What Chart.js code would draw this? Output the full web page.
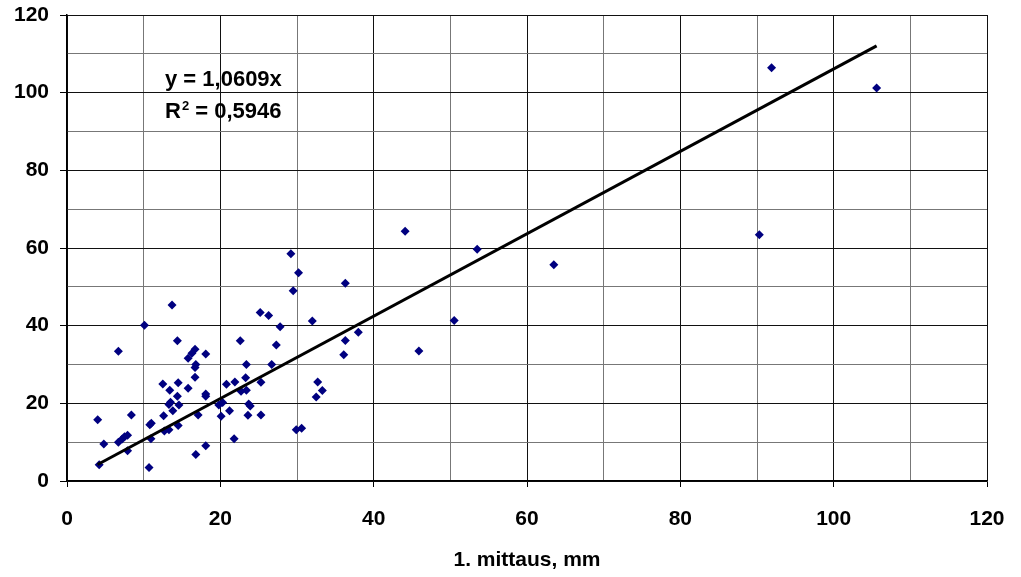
<!DOCTYPE html>
<html>
<head>
<meta charset="utf-8">
<script src="https://cdn.jsdelivr.net/npm/chart.js@4.4.0/dist/chart.umd.min.js"></script>
<style>
  html, body { margin: 0; padding: 0; background: #fff; }
</style>
</head>
<body>
<canvas id="scatterChart" width="1021" height="577"></canvas>
<script>
// 1. mittaus (x) and 2. mittaus (y), mm
const firstMeasure = [
  13.7, 10.1, 14.4, 6.7, 18.1, 16.7, 16.3, 15.8, 16.8, 16.7,
  16.7, 22.6, 23.4, 23.3, 25.2, 12.5, 13.4, 14.5, 14.4, 15.8,
  13.5, 13.3, 14.6, 13.8, 12.6, 10.8, 11.0, 10.95, 12.7, 13.3,
  14.5, 17.1, 18.1, 18.1, 18.1, 16.8, 10.7, 4.0, 4.8, 4.2,
  8.4, 7.9, 6.7, 7.2, 7.5, 7.9, 19.8, 20.3, 20.1, 20.8,
  21.9, 21.2, 21.8, 22.7, 23.4, 23.7, 23.9, 23.6, 25.3, 29.2,
  30.2, 29.5, 36.3, 26.3, 27.8, 32.0, 27.3, 26.7, 25.3, 36.3,
  38.0, 36.1, 32.7, 33.3, 32.5, 29.9, 30.6, 91.9, 105.6, 90.3,
  44.1, 53.5, 63.5, 50.5, 45.9
];
const secondMeasure = [
  45.3, 40.1, 36.1, 33.4, 32.7, 33.9, 32.9, 31.6, 30.0, 29.2,
  26.7, 36.1, 30.0, 26.6, 43.4, 25.0, 23.4, 25.3, 21.8, 23.9,
  20.3, 19.7, 19.6, 18.1, 16.8, 14.5, 14.9, 10.9, 12.9, 13.2,
  14.3, 17.0, 22.4, 21.8, 9.1, 6.8, 3.5, 15.8, 9.5, 4.2,
  17.0, 7.8, 10.0, 10.8, 11.4, 11.8, 19.6, 20.2, 16.7, 24.9,
  25.5, 18.1, 10.9, 23.1, 23.4, 19.8, 19.3, 16.9, 17.0, 58.5,
  53.6, 49.0, 50.9, 42.6, 39.7, 41.2, 35.0, 30.0, 25.4, 36.2,
  38.3, 32.5, 25.5, 23.3, 21.6, 13.2, 13.6, 106.4, 101.2, 63.4,
  64.3, 59.7, 55.7, 41.3, 33.5
];
const trendSlope = 1.0609;
const trendLabel = 'y = 1,0609x';
const r2Value = '0,5946';
const xTitle = '1. mittaus, mm';

const points = firstMeasure.map((x, i) => ({ x: x, y: secondMeasure[i] }));
const minX = Math.min(...firstMeasure);
const maxX = Math.max(...firstMeasure);
const trendPoints = [
  { x: minX, y: trendSlope * minX },
  { x: maxX, y: trendSlope * maxX }
];

const FONT = "'Liberation Sans', Arial, sans-serif";

// equation + R² text
const equationPlugin = {
  id: 'equation',
  afterDatasetsDraw(chart) {
    const ctx = chart.ctx;
    const left = chart.chartArea.left + 98;
    const top = chart.chartArea.top;
    ctx.save();
    ctx.fillStyle = '#000';
    ctx.textBaseline = 'alphabetic';
    ctx.font = 'bold 22px ' + FONT;
    ctx.fillText(trendLabel, left, top + 71);
    ctx.fillText('R', left, top + 103);
    const rW = ctx.measureText('R').width;
    ctx.font = 'bold 13px ' + FONT;
    ctx.fillText('2', left + rW + 1, top + 95);
    const sW = ctx.measureText('2').width;
    ctx.font = 'bold 22px ' + FONT;
    ctx.fillText(' = ' + r2Value, left + rW + sW + 1, top + 103);
    ctx.restore();
  }
};

const gridColor = (ctx) => (ctx.tick && ctx.tick.value % 20 === 0) ? '#111' : '#777';
const tickColor = (ctx) => (ctx.tick && ctx.tick.value % 20 === 0) ? '#000' : 'rgba(0,0,0,0)';
const every20 = (v) => (v % 20 === 0 ? v : '');

new Chart(document.getElementById('scatterChart'), {
  type: 'scatter',
  data: {
    datasets: [
      {
        label: 'mittaukset',
        data: points,
        backgroundColor: '#000080',
        borderWidth: 0,
        pointStyle: 'rectRot',
        pointRadius: 4.5,
        pointHoverRadius: 4.5,
        order: 2
      },
      {
        type: 'line',
        label: 'trendi',
        data: trendPoints,
        borderColor: '#000',
        borderWidth: 3,
        pointRadius: 0,
        fill: false,
        order: 1
      }
    ]
  },
  options: {
    responsive: false,
    animation: false,
    layout: { padding: 0 },
    plugins: {
      legend: { display: false },
      tooltip: { enabled: false }
    },
    scales: {
      x: {
        type: 'linear',
        min: 0,
        max: 120,
        afterFit(scale) {
          scale.height = 96;
          scale.paddingRight = 34;
          scale.paddingLeft = 0;
        },
        ticks: {
          stepSize: 10,
          autoSkip: false,
          maxRotation: 0,
          padding: 20,
          color: '#000',
          font: { family: FONT, size: 21, weight: 'bold' },
          callback: every20
        },
        grid: { color: gridColor, tickColor: tickColor, tickLength: 6, lineWidth: 1 },
        border: { display: true, color: '#000', width: 1.5 },
        title: {
          display: true,
          text: xTitle,
          color: '#000',
          font: { family: FONT, size: 21, weight: 'bold' },
          padding: { top: 0, bottom: 4 }
        }
      },
      y: {
        min: 0,
        max: 120,
        afterFit(scale) {
          scale.width = 67;
          scale.paddingTop = 15;
          scale.paddingBottom = 0;
        },
        ticks: {
          stepSize: 10,
          autoSkip: false,
          padding: 11,
          color: '#000',
          font: { family: FONT, size: 21, weight: 'bold' },
          callback: every20
        },
        grid: { color: gridColor, tickColor: tickColor, tickLength: 7, lineWidth: 1 },
        border: { display: true, color: '#000', width: 1.5 }
      }
    }
  },
  plugins: [equationPlugin]
});
</script>
</body>
</html>
